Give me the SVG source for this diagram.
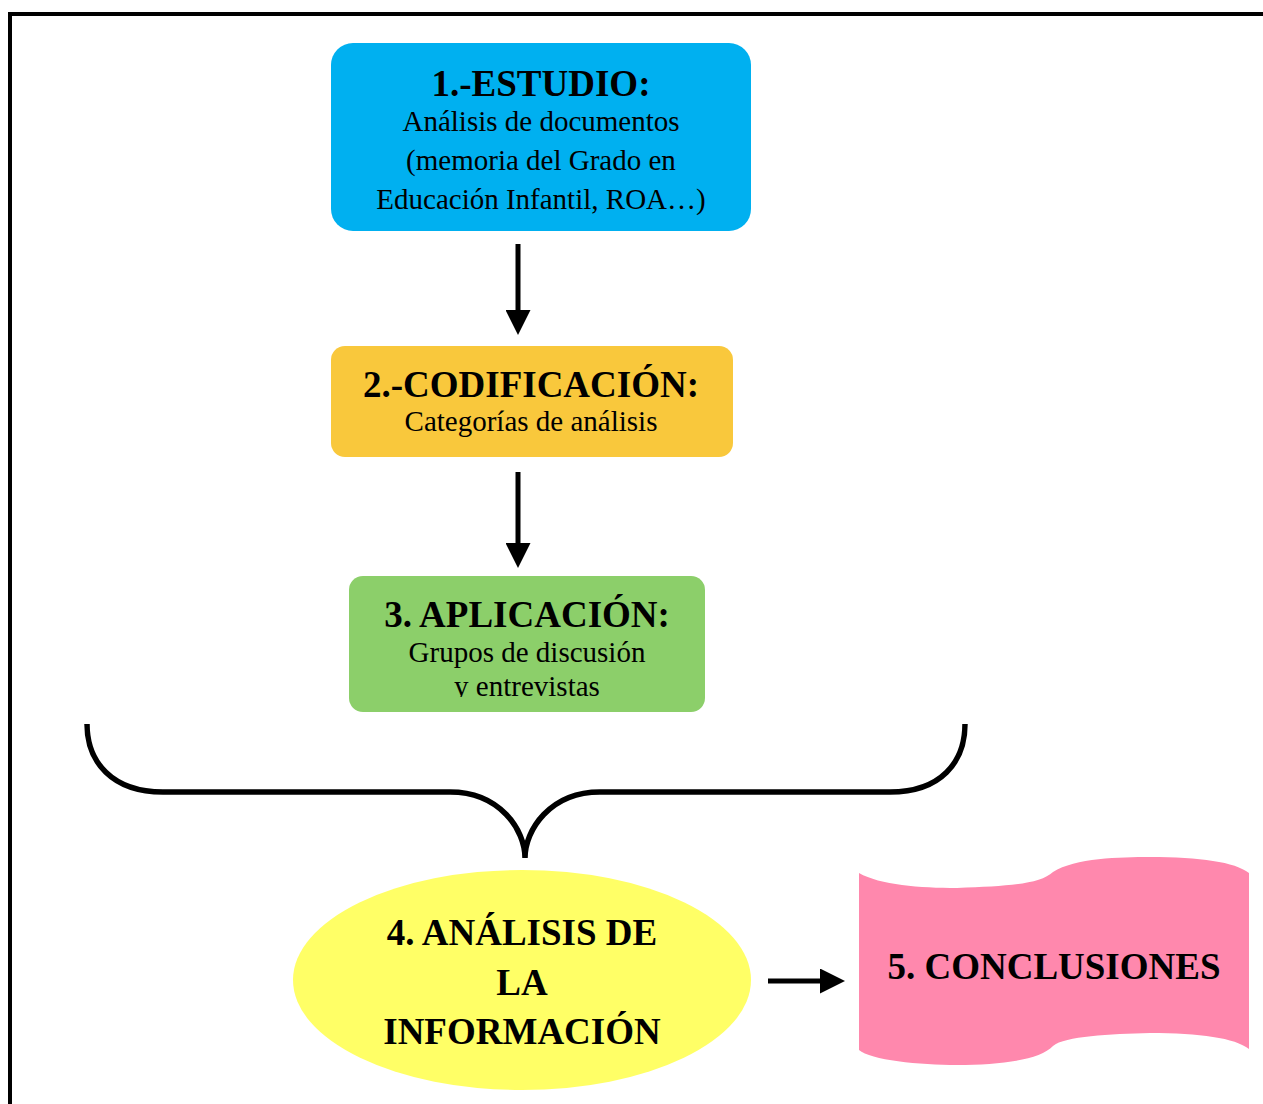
<svg xmlns="http://www.w3.org/2000/svg" width="1263" height="1104" viewBox="0 0 1263 1104">
<style>
.t{font-family:"Liberation Serif","Times New Roman",serif;fill:#000;text-anchor:middle}
.b{font-weight:bold;font-size:37px}
.r{font-size:29px}
.conn{fill:none;stroke:#000;stroke-width:5}
</style>
<defs>
<marker id="ah" markerWidth="5" markerHeight="5" refX="0" refY="2.5" orient="auto" markerUnits="strokeWidth">
<path d="M0,0 L5,2.5 L0,5 Z" fill="#000"/>
</marker>
<clipPath id="c3"><rect x="349" y="576" width="356" height="121"/></clipPath>
</defs>
<rect x="10" y="14" width="1270" height="1110" fill="#fff" stroke="#000" stroke-width="4"/>
<g id="connectors">
<line class="conn" x1="518" y1="244" x2="518" y2="310" marker-end="url(#ah)"/>
<line class="conn" x1="518" y1="472" x2="518" y2="543" marker-end="url(#ah)"/>
<line class="conn" x1="768" y1="981" x2="820" y2="981" marker-end="url(#ah)"/>
<path class="conn" style="stroke-width:5.5" d="M87,724 C87,762 112,792 163,792 L450,792 C500,792 525,830 525,858 C525,830 550,792 600,792 L890,792 C941,792 965,762 965,724"/>
</g>
<g id="node1">
<rect x="331" y="43" width="420" height="188" rx="22" fill="#00B0F0"/>
<text class="t b" x="541" y="96">1.-ESTUDIO:</text>
<text class="t r" x="541" y="131">Análisis de documentos</text>
<text class="t r" x="541" y="170">(memoria del Grado en</text>
<text class="t r" x="541" y="209">Educación Infantil, ROA…)</text>
</g>
<g id="node2">
<rect x="331" y="346" width="402" height="111" rx="14" fill="#F9C83C"/>
<text class="t b" x="531" y="397">2.-CODIFICACIÓN:</text>
<text class="t r" x="531" y="431">Categorías de análisis</text>
</g>
<g id="node3">
<rect x="349" y="576" width="356" height="136" rx="14" fill="#8CCF6A"/>
<text class="t b" x="527" y="627">3. APLICACIÓN:</text>
<text class="t r" x="527" y="662">Grupos de discusión</text>
<text class="t r" x="527" y="696" clip-path="url(#c3)">y entrevistas</text>
</g>
<g id="node4">
<ellipse cx="522" cy="980" rx="229" ry="110" fill="#FFFF66"/>
<text class="t b" x="522" y="945">4. ANÁLISIS DE</text>
<text class="t b" x="522" y="995">LA</text>
<text class="t b" x="522" y="1044">INFORMACIÓN</text>
</g>
<g id="node5">
<path d="M859,873 C880,885 920,888 957,888 C1010,886 1040,884 1053,872 C1075,858 1120,857 1150,857 C1200,857 1235,862 1249,873 L1249,1049 C1235,1038 1200,1033 1150,1033 C1110,1034 1065,1036 1053,1046 C1040,1060 1000,1065 957,1065 C920,1065 870,1060 859,1050 Z" fill="#FF88AD"/>
<text class="t b" x="1054" y="979">5. CONCLUSIONES</text>
</g>
</svg>
